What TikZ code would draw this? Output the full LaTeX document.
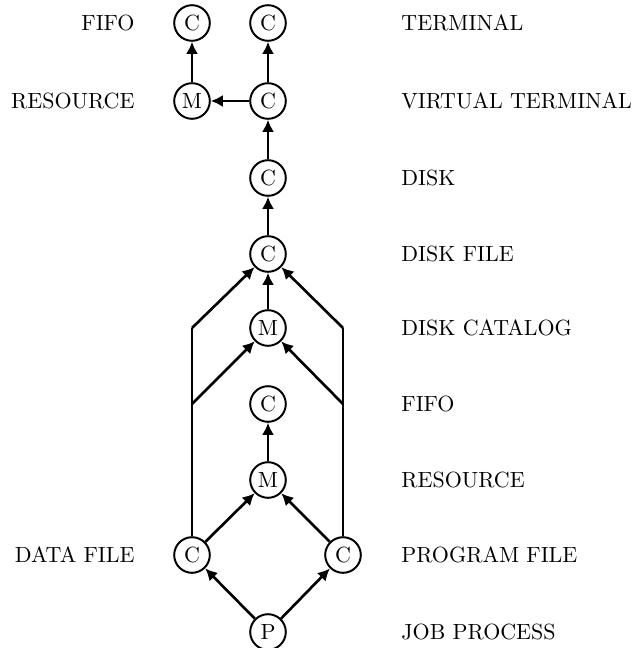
\documentclass[tikz,border=0pt]{standalone}
\usetikzlibrary{arrows.meta}
\begin{document}
\begin{tikzpicture}[x=0.455pt,y=-0.455pt,
  nd/.style={draw,circle,line width=0.9pt,minimum size=16.2pt,inner sep=0pt,font=\normalsize},
  edge/.style={line width=1.2pt,-{Latex[length=5.5pt,width=5.5pt]}},
  seg/.style={line width=1.2pt},
  lbl/.style={font=\normalsize,inner sep=0pt}]
\useasboundingbox (0,0) rectangle (639,648);
% nodes
\node[nd] (fifoT) at (192,23) {C};
\node[nd] (term) at (268,23) {C};
\node[nd] (res) at (192,101) {M};
\node[nd] (vt) at (268,101) {C};
\node[nd] (disk) at (268,178) {C};
\node[nd] (df) at (268,254) {C};
\node[nd] (dc) at (268,328) {M};
\node[nd] (fifo) at (268,404) {C};
\node[nd] (res2) at (268,480) {M};
\node[nd] (data) at (192,555) {C};
\node[nd] (prog) at (343,555) {C};
\node[nd] (job) at (268,632) {P};
% bend coordinates
\coordinate (l1) at (192,328);
\coordinate (l2) at (192,404);
\coordinate (r1) at (343,328);
\coordinate (r2) at (343,404);
% labels
\node[lbl,anchor=east] (t1) at (135,23) {FIFO};
\node[lbl,anchor=east] (t2) at (135,101) {RESOURCE};
\node[lbl,anchor=east] (t3) at (135,555) {DATA FILE};
\node[lbl,anchor=west] (u1) at (401,23) {TERMINAL};
\node[lbl,anchor=west] (u2) at (401,101) {VIRTUAL TERMINAL};
\node[lbl,anchor=west] (u3) at (401,178) {DISK};
\node[lbl,anchor=west] (u4) at (401,254) {DISK FILE};
\node[lbl,anchor=west] (u5) at (401,328) {DISK CATALOG};
\node[lbl,anchor=west] (u6) at (401,404) {FIFO};
\node[lbl,anchor=west] (u7) at (401,480) {RESOURCE};
\node[lbl,anchor=west] (u8) at (401,555) {PROGRAM FILE};
\node[lbl,anchor=west] (u9) at (401,632) {JOB PROCESS};
% edges
\draw[edge] (job) -- (data);
\draw[edge] (job) -- (prog);
\draw[edge] (data) -- (res2);
\draw[edge] (prog) -- (res2);
\draw[edge] (res2) -- (fifo);
\draw[seg] (data.north) -- (l1);
\draw[edge] (l1) -- (df);
\draw[edge] (l2) -- (dc);
\draw[seg] (prog.north) -- (r1);
\draw[edge] (r1) -- (df);
\draw[edge] (r2) -- (dc);
\draw[edge] (dc) -- (df);
\draw[edge] (df) -- (disk);
\draw[edge] (disk) -- (vt);
\draw[edge] (vt) -- (term);
\draw[edge] (vt) -- (res);
\draw[edge] (res) -- (fifoT);
\end{tikzpicture}
\end{document}
